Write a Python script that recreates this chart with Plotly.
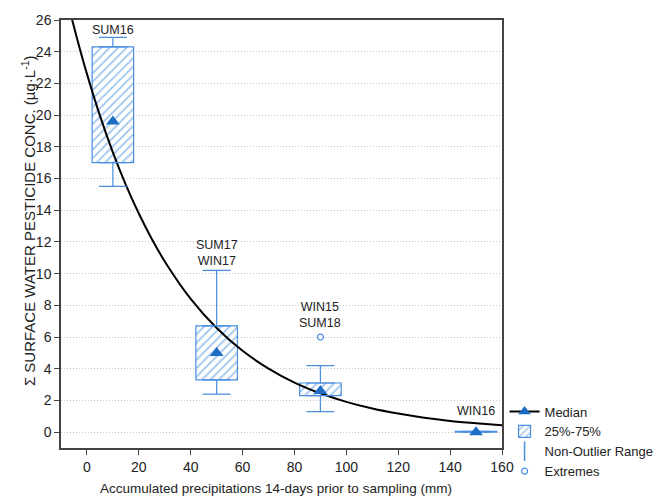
import plotly.graph_objects as go

# ---- data ----
positions = [10, 50, 90, 150]
labels = ["SUM16", "SUM17<br>WIN17", "WIN15<br>SUM18", "WIN16"]
label_y = [25.4, 11.3, 7.4, 1.35]
q1 = [17.0, 3.3, 2.3, 0.0]
q3 = [24.3, 6.7, 3.1, 0.05]
medians = [19.6, 5.0, 2.6, 0.0]
whisk_lo = [15.5, 2.4, 1.3, 0.0]
whisk_hi = [24.9, 10.2, 4.2, 0.05]
extreme_x = [90]
extreme_y = [6.0]

# fitted decay curve
curve_x = [-8, -4, 0, 5, 10, 15, 20, 25, 30, 40, 50, 60, 70, 80, 90, 100, 110, 120, 130, 140, 150, 160]
curve_y = [27.5, 24.95, 22.6, 19.97, 17.65, 15.6, 13.79, 12.19, 10.77, 8.41, 6.57, 5.13, 4.01,
           3.13, 2.45, 1.91, 1.49, 1.17, 0.91, 0.71, 0.56, 0.43]

x_ticks = [0, 20, 40, 60, 80, 100, 120, 140, 160]
y_ticks = list(range(0, 27, 2))

BOX = "#4a8ee0"
HATCH = "#3f86dc"
MED = "#1f6cc4"
FONT = "Arial, Liberation Sans, sans-serif"
TXT = "#222222"

fig = go.Figure()

# fitted curve
fig.add_trace(go.Scatter(x=curve_x, y=curve_y, mode="lines", line=dict(color="black", width=2, shape="spline"),
                         showlegend=False, hoverinfo="skip"))

# legend-only Median entry
fig.add_trace(go.Scatter(x=[None], y=[None], mode="lines+markers", name="Median",
                         line=dict(color="black", width=2),
                         marker=dict(symbol="triangle-up", size=11, color=MED)))

# boxes (25%-75%)
fig.add_trace(go.Bar(x=positions, base=q1, y=[b - a for a, b in zip(q1, q3)], width=16,
                     name="25%-75%",
                     marker=dict(color="white", line=dict(color=BOX, width=1.2),
                                 pattern=dict(shape="/", fgcolor=HATCH, bgcolor="white", size=6, solidity=0.3)),
                     hoverinfo="skip"))

# whiskers
fig.add_trace(go.Scatter(x=positions, y=q3, mode="markers", marker=dict(color="rgba(0,0,0,0)", size=1),
                         showlegend=False, hoverinfo="skip",
                         error_y=dict(type="data", symmetric=False,
                                      array=[h - t for h, t in zip(whisk_hi, q3)], arrayminus=[0] * 4,
                                      color=BOX, thickness=1.2, width=14)))
fig.add_trace(go.Scatter(x=positions, y=q1, mode="markers", marker=dict(color="rgba(0,0,0,0)", size=1),
                         showlegend=False, hoverinfo="skip",
                         error_y=dict(type="data", symmetric=False,
                                      array=[0] * 4, arrayminus=[b - l for b, l in zip(q1, whisk_lo)],
                                      color=BOX, thickness=1.2, width=14)))

# legend entry for whiskers
fig.add_trace(go.Scatter(x=[None], y=[None], mode="markers", name="Non-Outlier Range",
                         marker=dict(symbol="line-ns-open", size=14, color=BOX, line=dict(color=BOX, width=1.5))))

# extremes
fig.add_trace(go.Scatter(x=extreme_x, y=extreme_y, mode="markers", name="Extremes",
                         marker=dict(symbol="circle-open", size=6, color=BOX, line=dict(color=BOX, width=1.2)),
                         hoverinfo="skip"))

# median markers
fig.add_trace(go.Scatter(x=positions, y=medians, mode="markers", showlegend=False,
                         marker=dict(symbol="triangle-up", size=12, color=MED), hoverinfo="skip"))

# group labels
for px, lb, ly in zip(positions, labels, label_y):
    fig.add_annotation(x=px, y=ly, text=lb, showarrow=False, font=dict(family=FONT, size=12.5, color=TXT),
                       xref="x", yref="y")

# axis titles
fig.add_annotation(xref="paper", yref="paper", x=-0.074, y=0.531, textangle=-90,
                   text="Σ SURFACE WATER PESTICIDE CONC. (µg·L<sup>-1</sup>)", showarrow=False,
                   font=dict(family=FONT, size=15, color=TXT), xanchor="center", yanchor="middle")
fig.add_annotation(xref="paper", yref="paper", x=0.488, y=-0.095,
                   text="Accumulated precipitations 14-days prior to sampling (mm)", showarrow=False,
                   font=dict(family=FONT, size=13.5, color=TXT), xanchor="center", yanchor="middle")

fig.update_layout(
    width=670, height=498,
    margin=dict(l=61, r=163, t=18, b=49),
    paper_bgcolor="white", plot_bgcolor="white",
    barmode="overlay",
    font=dict(family=FONT, size=14, color=TXT),
    legend=dict(x=1.355, y=-0.09, xanchor="right", yanchor="bottom", font=dict(family=FONT, size=13, color=TXT),
                bgcolor="rgba(0,0,0,0)", tracegroupgap=0, itemwidth=30),
    xaxis=dict(range=[-10, 160], tickvals=x_ticks, showgrid=False, zeroline=False,
               showline=True, linecolor="#444", linewidth=1.5, mirror=True,
               ticks="outside", ticklen=5, tickcolor="#444", tickfont=dict(size=14, color=TXT)),
    yaxis=dict(range=[-1, 26], tickvals=y_ticks, showgrid=True, gridcolor="#c8c8c8", griddash="1px,2px",
               gridwidth=1, zeroline=False,
               showline=True, linecolor="#444", linewidth=1.5, mirror=True,
               ticks="outside", ticklen=5, tickcolor="#444", tickfont=dict(size=14, color=TXT)),
)

fig.write_html("out.html")
